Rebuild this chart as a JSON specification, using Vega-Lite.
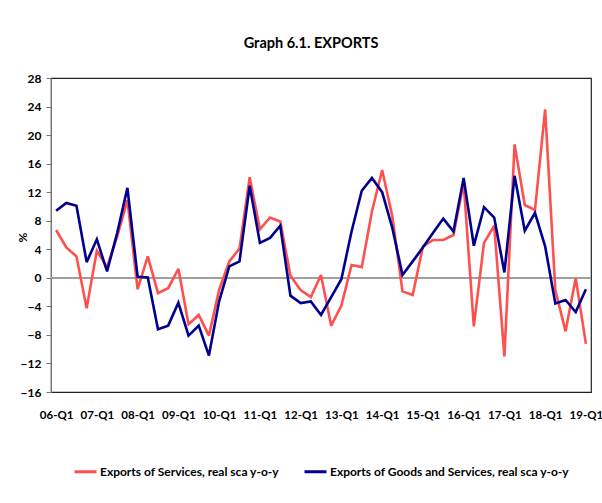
{
  "$schema": "https://vega.github.io/schema/vega-lite/v6.json",
  "width": 540,
  "height": 314,
  "autosize": {"type": "none"},
  "padding": {"left": 51, "top": 78, "right": 11, "bottom": 111},
  "background": "white",
  "config": {
    "font": "Lato",
    "view": {"stroke": "#222", "strokeWidth": 1.2}
  },
  "title": {
    "text": "Graph 6.1. EXPORTS",
    "fontSize": 14.5,
    "fontWeight": "bold",
    "font": "Lato",
    "color": "#000",
    "frame": "group",
    "anchor": "middle",
    "dx": -10,
    "offset": 21
  },
  "data": {
    "values": [
      {"q": "06-Q1", "services": 6.7, "total": 9.4},
      {"q": "06-Q2", "services": 4.25, "total": 10.5},
      {"q": "06-Q3", "services": 3.0, "total": 10.1},
      {"q": "06-Q4", "services": -4.25, "total": 2.2},
      {"q": "07-Q1", "services": 3.8, "total": 5.4},
      {"q": "07-Q2", "services": 1.5, "total": 0.9},
      {"q": "07-Q3", "services": 5.8, "total": 6.3},
      {"q": "07-Q4", "services": 10.9, "total": 12.6},
      {"q": "08-Q1", "services": -1.6, "total": 0.15},
      {"q": "08-Q2", "services": 3.0, "total": 0.05},
      {"q": "08-Q3", "services": -2.15, "total": -7.2},
      {"q": "08-Q4", "services": -1.45, "total": -6.7},
      {"q": "09-Q1", "services": 1.26, "total": -3.5},
      {"q": "09-Q2", "services": -6.5, "total": -8.1},
      {"q": "09-Q3", "services": -5.2, "total": -6.7},
      {"q": "09-Q4", "services": -8.1, "total": -10.9},
      {"q": "10-Q1", "services": -1.7, "total": -3.3},
      {"q": "10-Q2", "services": 2.3, "total": 1.6},
      {"q": "10-Q3", "services": 4.1, "total": 2.3},
      {"q": "10-Q4", "services": 14.1, "total": 12.9},
      {"q": "11-Q1", "services": 6.8, "total": 4.9},
      {"q": "11-Q2", "services": 8.45, "total": 5.6},
      {"q": "11-Q3", "services": 7.9, "total": 7.3},
      {"q": "11-Q4", "services": 0.3, "total": -2.5},
      {"q": "12-Q1", "services": -1.7, "total": -3.55},
      {"q": "12-Q2", "services": -2.7, "total": -3.3},
      {"q": "12-Q3", "services": 0.4, "total": -5.2},
      {"q": "12-Q4", "services": -6.7, "total": -2.7},
      {"q": "13-Q1", "services": -3.9, "total": -0.2},
      {"q": "13-Q2", "services": 1.8, "total": 6.5},
      {"q": "13-Q3", "services": 1.5, "total": 12.2},
      {"q": "13-Q4", "services": 9.3, "total": 14.0},
      {"q": "14-Q1", "services": 15.1, "total": 12.0},
      {"q": "14-Q2", "services": 8.6, "total": 7.0},
      {"q": "14-Q3", "services": -1.9, "total": 0.4},
      {"q": "14-Q4", "services": -2.4, "total": 2.3},
      {"q": "15-Q1", "services": 4.4, "total": 4.25},
      {"q": "15-Q2", "services": 5.3, "total": 6.3},
      {"q": "15-Q3", "services": 5.3, "total": 8.3},
      {"q": "15-Q4", "services": 6.0, "total": 6.5},
      {"q": "16-Q1", "services": 13.3, "total": 14.0},
      {"q": "16-Q2", "services": -6.8, "total": 4.5},
      {"q": "16-Q3", "services": 4.9, "total": 9.9},
      {"q": "16-Q4", "services": 7.3, "total": 8.45},
      {"q": "17-Q1", "services": -11.0, "total": 0.75},
      {"q": "17-Q2", "services": 18.7, "total": 14.3},
      {"q": "17-Q3", "services": 10.2, "total": 6.6},
      {"q": "17-Q4", "services": 9.5, "total": 9.1},
      {"q": "18-Q1", "services": 23.6, "total": 4.4},
      {"q": "18-Q2", "services": -1.7, "total": -3.6},
      {"q": "18-Q3", "services": -7.5, "total": -3.1},
      {"q": "18-Q4", "services": -0.05, "total": -4.8},
      {"q": "19-Q1", "services": -9.25, "total": -1.6}
    ]
  },
  "layer": [
    {
      "mark": {"type": "rule", "color": "#a0a0a0", "strokeWidth": 1.5},
      "encoding": {
        "y": {
          "datum": 0,
          "type": "quantitative",
          "scale": {"domain": [-16, 28], "nice": false, "zero": false},
          "axis": {
            "title": "%",
            "titleFontSize": 12,
            "titleFontWeight": "bold",
            "titleColor": "#000",
            "titleAngle": 270,
            "titleAlign": "center",
            "titleBaseline": "middle",
            "titleX": -29,
            "titleY": 159,
            "values": [-16, -12, -8, -4, 0, 4, 8, 12, 16, 20, 24, 28],
            "labelFontSize": 12,
            "labelFontWeight": "bold",
            "labelColor": "#000",
            "labelPadding": 5,
            "labelOverlap": false,
            "labelFlush": false,
            "labelBound": false,
            "tickSize": 5,
            "tickColor": "#777",
            "domainColor": "#777",
            "grid": false
          }
        }
      }
    },
    {
      "transform": [
        {"fold": ["services", "total"], "as": ["key", "value"]},
        {"lookup": "key", "from": {"data": {"values": [
          {"key": "services", "series": "Exports of Services, real sca y-o-y", "ord": 1},
          {"key": "total", "series": "Exports of Goods and Services, real sca y-o-y", "ord": 2}
        ]}, "key": "key", "fields": ["series", "ord"]}}
      ],
      "mark": {"type": "line", "strokeWidth": 2.6, "strokeJoin": "miter", "strokeMiterLimit": 3},
      "encoding": {
        "x": {
          "field": "q",
          "type": "ordinal",
          "sort": null,
          "scale": {"type": "point", "padding": 0.5},
          "axis": {
            "title": null,
            "values": ["06-Q1","07-Q1","08-Q1","09-Q1","10-Q1","11-Q1","12-Q1","13-Q1","14-Q1","15-Q1","16-Q1","17-Q1","18-Q1","19-Q1"],
            "labelAngle": 0,
            "labelFontSize": 11.5,
            "labelFontWeight": "bold",
            "labelColor": "#000",
            "labelPadding": 17,
            "labelOverlap": false,
            "ticks": false,
            "domain": false,
            "grid": false
          }
        },
        "y": {
          "field": "value",
          "type": "quantitative",
          "scale": {"domain": [-16, 28], "nice": false, "zero": false},
          "axis": {
            "title": "%",
            "titleFontSize": 12,
            "titleFontWeight": "bold",
            "titleColor": "#000",
            "titleAngle": 270,
            "titleAlign": "center",
            "titleBaseline": "middle",
            "titleX": -29,
            "titleY": 159,
            "values": [-16, -12, -8, -4, 0, 4, 8, 12, 16, 20, 24, 28],
            "labelFontSize": 12,
            "labelFontWeight": "bold",
            "labelColor": "#000",
            "labelPadding": 5,
            "labelOverlap": false,
            "labelFlush": false,
            "labelBound": false,
            "tickSize": 5,
            "tickColor": "#777",
            "domainColor": "#777",
            "grid": false
          }
        },
        "color": {
          "field": "series",
          "type": "nominal",
          "scale": {
            "domain": ["Exports of Services, real sca y-o-y", "Exports of Goods and Services, real sca y-o-y"],
            "range": ["#ff5050", "#000090"]
          },
          "legend": {
            "title": null,
            "orient": "none",
            "direction": "horizontal",
            "legendX": 22,
            "legendY": 381,
            "symbolType": "stroke",
            "symbolSize": 484,
            "symbolStrokeWidth": 3,
            "labelFontSize": 12,
            "labelFontWeight": "bold",
            "labelColor": "#000",
            "labelOffset": 2,
            "columnPadding": 18,
            "labelLimit": 400
          }
        },
        "order": {"field": "ord"}
      }
    }
  ]
}
